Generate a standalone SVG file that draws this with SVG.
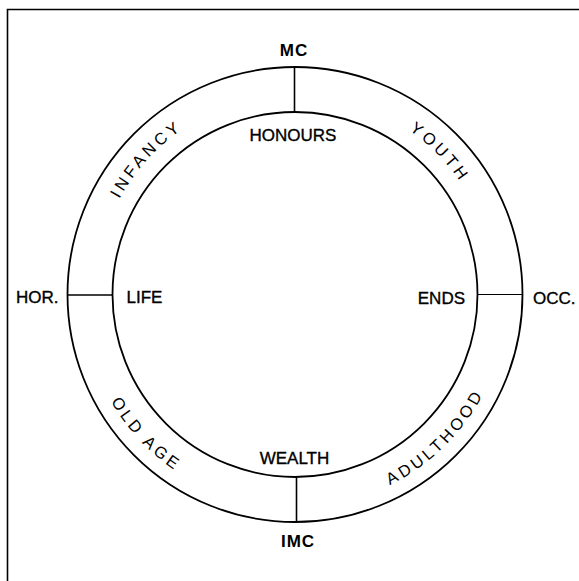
<svg xmlns="http://www.w3.org/2000/svg" width="579" height="581" viewBox="0 0 579 581">
<style>
.ring{fill:none;stroke:#000;stroke-width:1.8}
.spoke{stroke:#000;stroke-width:1.6}
.frame{stroke:#000;stroke-width:1.6;fill:none}
.lbl{font-family:"Liberation Sans",Arial,sans-serif;font-size:17px;fill:#000;stroke:#000;stroke-width:0.35}
.ax{font-family:"Liberation Sans",Arial,sans-serif;font-size:17px;font-weight:bold;fill:#000;letter-spacing:1px}
.age{font-family:"Liberation Sans",Arial,sans-serif;font-size:16.5px;fill:#000;letter-spacing:3.5px}
</style>
<defs>
<path id="topArc" d="M 95 294.5 A 200 200 0 0 1 495 294.5"/>
<path id="botArc" d="M 82 294.5 A 213 213 0 0 0 508 294.5"/>
</defs>
<g id="frame"><path class="frame" d="M 7.5 581 L 7.5 9.5 L 579 9.5"/></g>
<g id="wheel">
<circle class="ring" cx="295" cy="294.5" r="227.5"/>
<circle class="ring" cx="295" cy="294.5" r="182.5"/>
</g>
<g id="connectors">
<line class="spoke" x1="294.5" y1="67" x2="294.5" y2="112"/>
<line class="spoke" x1="296.5" y1="477" x2="296.5" y2="522"/>
<line class="spoke" x1="67.5" y1="295" x2="112.5" y2="295"/>
<line class="spoke" x1="477.5" y1="294.5" x2="522.5" y2="294.5" style="stroke-width:1.2"/>
</g>
<g id="n-mc"><text class="ax" x="294" y="56" text-anchor="middle">MC</text></g>
<g id="n-imc"><text class="ax" x="298" y="546.5" text-anchor="middle">IMC</text></g>
<g id="n-hor"><text class="lbl" x="16" y="303">HOR.</text></g>
<g id="n-occ"><text class="lbl" x="533" y="304">OCC.</text></g>
<g id="n-honours"><text class="lbl" x="293" y="141" text-anchor="middle">HONOURS</text></g>
<g id="n-wealth"><text class="lbl" x="294.5" y="463.5" text-anchor="middle">WEALTH</text></g>
<g id="n-life"><text class="lbl" x="126.5" y="303">LIFE</text></g>
<g id="n-ends"><text class="lbl" x="465" y="304" text-anchor="end">ENDS</text></g>
<g id="n-infancy"><text class="age" text-anchor="middle"><textPath href="#topArc" startOffset="23.5%">INFANCY</textPath></text></g>
<g id="n-youth"><text class="age" text-anchor="middle"><textPath href="#topArc" startOffset="75.3%">YOUTH</textPath></text></g>
<g id="n-oldage"><text class="age" text-anchor="middle"><textPath href="#botArc" startOffset="24%">OLD AGE</textPath></text></g>
<g id="n-adulthood"><text class="age" text-anchor="middle"><textPath href="#botArc" startOffset="74.7%">ADULTHOOD</textPath></text></g>
</svg>
